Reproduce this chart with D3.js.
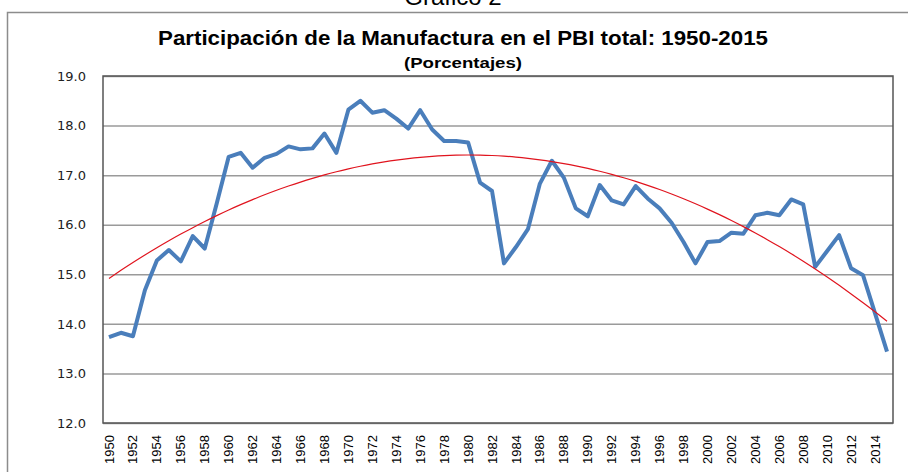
<!DOCTYPE html>
<html>
<head>
<meta charset="utf-8">
<script src="https://cdn.jsdelivr.net/npm/d3@7"></script>
<style>
  html, body { margin: 0; padding: 0; background: #fff; }
  svg { display: block; }
</style>
</head>
<body>
<div id="chart"></div>
<script>
(function() {
  'use strict';

  var years = d3.range(1950, 2016);

  // participación de la manufactura en el PBI (%)
  var shares = [
    13.73, 13.82, 13.75, 14.68, 15.28, 15.49, 15.26, 15.77, 15.52, 16.43,
    17.37, 17.45, 17.15, 17.35, 17.43, 17.58, 17.52, 17.54, 17.84, 17.45,
    18.32, 18.50, 18.26, 18.31, 18.14, 17.94, 18.31, 17.92, 17.69, 17.69,
    17.66, 16.85, 16.68, 15.22, 15.55, 15.91, 16.83, 17.29, 16.95, 16.33,
    16.17, 16.80, 16.49, 16.41, 16.78, 16.53, 16.33, 16.04, 15.65, 15.22,
    15.65, 15.67, 15.84, 15.82, 16.19, 16.24, 16.19, 16.51, 16.41, 15.15,
    15.47, 15.79, 15.12, 14.98, 14.21, 13.44
  ];

  var yTicks = [12, 13, 14, 15, 16, 17, 18, 19];
  var xTickYears = years.filter(function (d) { return d % 2 === 0; });

  var width = 908;
  var height = 472;
  var plot = { left: 103, right: 893, top: 76, bottom: 423 };

  var svg = d3.select("#chart")
    .append("svg")
    .attr("width", width)
    .attr("height", height);

  // outer frame of the chart (right side runs off the picture)
  svg.append("rect")
    .attr("x", 7.5)
    .attr("y", 12.5)
    .attr("width", 1000)
    .attr("height", 600)
    .attr("fill", "none")
    .attr("stroke", "#8c8c8c")
    .attr("stroke-width", 1.5);

  svg.append("text")
    .attr("x", 453)
    .attr("y", 5)
    .attr("text-anchor", "middle")
    .style("font-family", "'Liberation Sans', Arial, sans-serif")
    .style("font-size", "24px")
    .attr("fill", "#000")
    .text("Gráfico 2");

  svg.append("text")
    .attr("x", 463)
    .attr("y", 45)
    .attr("text-anchor", "middle")
    .attr("textLength", 610)
    .attr("lengthAdjust", "spacingAndGlyphs")
    .style("font-family", "'Liberation Sans', Arial, sans-serif")
    .style("font-size", "20px")
    .style("font-weight", "bold")
    .attr("fill", "#000")
    .text("Participación de la Manufactura en el PBI total: 1950-2015");

  svg.append("text")
    .attr("x", 463)
    .attr("y", 68)
    .attr("text-anchor", "middle")
    .attr("textLength", 118)
    .attr("lengthAdjust", "spacingAndGlyphs")
    .style("font-family", "'Liberation Sans', Arial, sans-serif")
    .style("font-size", "14px")
    .style("font-weight", "bold")
    .attr("fill", "#000")
    .text("(Porcentajes)");

  var x = d3.scaleBand()
    .domain(years)
    .range([plot.left, plot.right])
    .padding(0);

  var y = d3.scaleLinear()
    .domain([12, 19])
    .range([plot.bottom, plot.top]);

  function cx(year) { return x(year) + x.bandwidth() / 2; }

  // gridlines
  var yAxis = d3.axisLeft(y)
    .tickValues(yTicks)
    .tickSize(-(plot.right - plot.left))
    .tickPadding(17)
    .tickFormat(d3.format(".1f"));

  var gy = svg.append("g")
    .attr("transform", "translate(" + plot.left + ",0)")
    .call(yAxis);
  gy.select(".domain").remove();
  gy.selectAll(".tick line")
    .attr("stroke", "#9a9a9a")
    .attr("stroke-width", 1.5);
  gy.selectAll(".tick text")
    .style("font-family", "'DejaVu Sans', Verdana, sans-serif")
    .style("font-size", "13px")
    .attr("fill", "#222");

  // x axis labels
  var xAxis = d3.axisBottom(x)
    .tickValues(xTickYears)
    .tickSize(0);

  var gx = svg.append("g")
    .attr("transform", "translate(0," + plot.bottom + ")")
    .call(xAxis);
  gx.select(".domain").remove();
  gx.selectAll(".tick text")
    .attr("transform", "rotate(-90)")
    .attr("x", -12)
    .attr("y", 0)
    .attr("dy", "0.35em")
    .attr("text-anchor", "end")
    .style("font-family", "'Liberation Sans', Arial, sans-serif")
    .style("font-size", "13px")
    .attr("fill", "#000");

  // plot border
  svg.append("rect")
    .attr("x", plot.left)
    .attr("y", plot.top)
    .attr("width", plot.right - plot.left)
    .attr("height", plot.bottom - plot.top)
    .attr("fill", "none")
    .attr("stroke", "#555")
    .attr("stroke-width", 1.5);

  // series
  var line = d3.line()
    .x(function (d, i) { return cx(years[i]); })
    .y(function (d) { return y(d); });

  svg.append("path")
    .datum(shares)
    .attr("d", line)
    .attr("fill", "none")
    .attr("stroke", "#4a7ebb")
    .attr("stroke-width", 4)
    .attr("stroke-linejoin", "round");

  // polynomial (order 2) trend, least squares over the series
  function quadFit(ys) {
    var n = ys.length, s = [0, 0, 0, 0, 0], t = [0, 0, 0];
    ys.forEach(function (v, i) {
      var xi = i + 1, p = 1;
      for (var k = 0; k < 5; k++) {
        s[k] += p;
        if (k < 3) { t[k] += p * v; }
        p *= xi;
      }
    });
    var A = [
      [s[0], s[1], s[2], t[0]],
      [s[1], s[2], s[3], t[1]],
      [s[2], s[3], s[4], t[2]]
    ];
    for (var c = 0; c < 3; c++) {
      for (var r = c + 1; r < 3; r++) {
        var f = A[r][c] / A[c][c];
        for (var k2 = c; k2 < 4; k2++) { A[r][k2] -= f * A[c][k2]; }
      }
    }
    var b = [0, 0, 0];
    for (var i = 2; i >= 0; i--) {
      var sum = A[i][3];
      for (var j = i + 1; j < 3; j++) { sum -= A[i][j] * b[j]; }
      b[i] = sum / A[i][i];
    }
    return function (xi) { return b[0] + b[1] * xi + b[2] * xi * xi; };
  }

  var trend = quadFit(shares);

  var trendLine = d3.line()
    .x(function (d) { return cx(d); })
    .y(function (d, i) { return y(trend(i + 1)); })
    .curve(d3.curveMonotoneX);

  svg.append("path")
    .datum(years)
    .attr("d", trendLine)
    .attr("fill", "none")
    .attr("stroke", "#e0141e")
    .attr("stroke-width", 1.2);
})();
</script>
</body>
</html>
